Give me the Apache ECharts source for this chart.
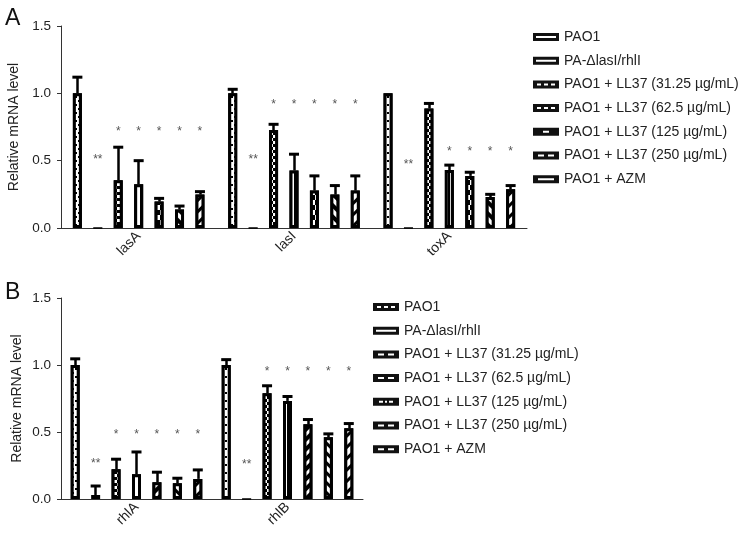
<!DOCTYPE html>
<html><head><meta charset="utf-8">
<script src="https://cdn.jsdelivr.net/npm/echarts@6/dist/echarts.min.js"></script>
<style>html,body{margin:0;padding:0;background:#fff}#c{width:742px;height:538px}</style>
</head><body><div id="c"></div>
<script>
// ---- data ----
const seriesNames = ['PAO1', 'PA-\u0394lasI/rhlI', 'PAO1 + LL37 (31.25 \u00b5g/mL)', 'PAO1 + LL37 (62.5 \u00b5g/mL)', 'PAO1 + LL37 (125 \u00b5g/mL)', 'PAO1 + LL37 (250 \u00b5g/mL)', 'PAO1 + AZM'];
const catsA = ['lasA', 'lasI', 'toxA'];
const catsB = ['rhlA', 'rhlB'];
const yTicks = [0, 0.5, 1.0, 1.5];

// means (one array per gene, ordered as seriesNames)
const meanLasA = [1.00, 0, 0.355, 0.325, 0.196, 0.137, 0.248];
const meanLasI = [1.00, 0, 0.727, 0.427, 0.278, 0.248, 0.278];
const meanToxA = [1.00, 0, 0.888, 0.430, 0.387, 0.230, 0.288];
const meanRhlA = [1.00, 0.030, 0.222, 0.185, 0.125, 0.117, 0.150];
const meanRhlB = [1.00, 0, 0.790, 0.732, 0.558, 0.461, 0.528];
// upper end of error bars
const errLasA = [1.12, 0, 0.60, 0.50, 0.22, 0.163, 0.27];
const errLasI = [1.03, 0, 0.77, 0.548, 0.387, 0.315, 0.387];
const errToxA = [1.00, 0, 0.925, 0.467, 0.414, 0.25, 0.315];
const errRhlA = [1.046, 0.097, 0.297, 0.351, 0.20, 0.155, 0.217];
const errRhlB = [1.04, 0, 0.845, 0.765, 0.593, 0.486, 0.563];
// significance marks
const starsLasA = ['', '**', '*', '*', '*', '*', '*'];
const starsLasI = ['', '**', '*', '*', '*', '*', '*'];
const starsToxA = ['', '**', '', '*', '*', '*', '*'];
const starsRhlA = ['', '**', '*', '*', '*', '*', '*'];
const starsRhlB = ['', '**', '*', '*', '*', '*', '*'];
// heights of marks: [single star, double star]
const starYLasA = [0.74, 0.526];
const starYLasI = [0.935, 0.528];
const starYToxA = [0.59, 0.49];
const starYRhlA = [0.503, 0.284];
const starYRhlB = [0.97, 0.279];

// ---- styles ----
const FONT = '"Liberation Sans", Arial, Helvetica, sans-serif';
const dec = (o) => Object.assign({symbol: 'rect', symbolSize: 1, color: '#000', backgroundColor: '#fff'}, o);
const decalsA = [
  dec({dashArrayX: [[2, 4], [0, 3, 2, 1]], dashArrayY: [2, 2]}),
  null,
  dec({dashArrayX: [[3, 3], [0, 3, 3, 0]], dashArrayY: [3, 0]}),
  dec({dashArrayX: [2, 5], dashArrayY: [10, 0]}),
  dec({dashArrayX: [[5, 5], [0, 5, 5, 0]], dashArrayY: [5, 0]}),
  dec({dashArrayX: [4, 4], dashArrayY: [20, 0], rotation: -Math.PI / 4}),
  dec({dashArrayX: [3, 5], dashArrayY: [20, 0], rotation: Math.PI / 4})
];
const decalsB = [
  dec({dashArrayX: [[2, 4], [0, 3, 2, 1]], dashArrayY: [2, 2]}),
  null,
  dec({dashArrayX: [[3, 3], [0, 3, 3, 0]], dashArrayY: [3, 0]}),
  dec({dashArrayX: [2, 5], dashArrayY: [10, 0]}),
  dec({dashArrayX: [4, 3], dashArrayY: [20, 0], rotation: Math.PI / 4}),
  dec({dashArrayX: [3, 4], dashArrayY: [20, 0], rotation: -Math.PI / 4}),
  dec({dashArrayX: [3, 5], dashArrayY: [20, 0], rotation: Math.PI / 4})
];
const OUT = 'M0,0L26,0L26,8L0,8Z ';
const hole = (x0, x1) => 'M' + x0 + ',3L' + x0 + ',5L' + x1 + ',5L' + x1 + ',3Z ';
const iconsA = [
  'path://' + OUT + hole(3, 23),
  'path://' + OUT + hole(3, 23),
  'path://' + OUT + hole(4, 8) + hole(11, 15) + hole(18, 22),
  'path://' + OUT + hole(4, 8) + hole(11, 15) + hole(18, 22),
  'path://' + OUT + hole(10, 16),
  'path://' + OUT + hole(5, 11) + hole(15, 21),
  'path://' + OUT + hole(5, 21)
];
const iconsB = [
  'path://' + OUT + hole(4, 8) + hole(11, 15) + hole(18, 22),
  'path://' + OUT + hole(3, 23),
  'path://' + OUT + hole(5, 11) + hole(15, 21),
  'path://' + OUT + hole(5, 11) + hole(15, 21),
  'path://' + OUT + hole(6, 10) + hole(12, 14) + hole(16, 20),
  'path://' + OUT + hole(5, 11) + hole(15, 21),
  'path://' + OUT + hole(5, 11) + hole(15, 21)
];

function buildSeries(gridIdx, means, errs, stars, starYs, decals) {
  return seriesNames.map((name, s) => {
    const data = means.map(m => (m[s] === 0 ? {value: 0, itemStyle: {borderWidth: 1}} : m[s]));
    const lines = [];
    const points = [];
    means.forEach((m, ci) => {
      const e = errs[ci][s];
      if (e > m[s] + 0.004) {
        lines.push([{coord: [ci, m[s]]}, {coord: [ci, e]}]);
        points.push({coord: [ci, e], symbol: 'rect', symbolSize: [10, 3], itemStyle: {color: '#000'}, label: {show: false}});
      }
      const st = stars[ci][s];
      if (st) {
        points.push({coord: [ci, st === '**' ? starYs[ci][1] : starYs[ci][0]], symbol: 'circle', symbolSize: 0,
          label: {show: true, formatter: st, fontSize: 12, color: '#555', fontFamily: FONT, position: 'inside', offset: [0, 3]}});
      }
    });
    return {
      type: 'bar', name, xAxisIndex: gridIdx, yAxisIndex: gridIdx, data,
      barWidth: 9, barGap: '127%',
      itemStyle: {color: '#fff', borderColor: '#000', borderWidth: 3, decal: decals[s] || undefined},
      emphasis: {disabled: true},
      markLine: {silent: true, symbol: ['none', 'none'], label: {show: false}, lineStyle: {color: '#000', width: 2.5, type: 'solid'}, emphasis: {disabled: true}, data: lines},
      markPoint: {silent: true, data: points}
    };
  });
}

const legendBase = (id, left, top, icons) => ({
  id, orient: 'vertical', left, top, padding: 0, itemWidth: 26, itemHeight: 8, itemGap: 9.7, selectedMode: false,
  textStyle: {fontSize: 14, color: '#222', fontFamily: FONT},
  itemStyle: {color: '#111', borderWidth: 0, decal: 'none'},
  data: seriesNames.map((n, i) => ({name: n, icon: icons[i]}))
});

const xAx = (gi, cats) => ({
  type: 'category', gridIndex: gi, data: cats,
  axisLine: {lineStyle: {color: '#333', width: 1}},
  axisTick: {alignWithLabel: true, length: 5, lineStyle: {color: '#333'}},
  axisLabel: {rotate: 45, fontSize: 14, color: '#222', fontFamily: FONT, margin: 6}
});
const yAx = (gi) => ({
  type: 'value', gridIndex: gi, min: yTicks[0], max: yTicks[yTicks.length - 1], interval: yTicks[1] - yTicks[0],
  name: 'Relative mRNA level', nameLocation: 'middle', nameGap: 37,
  nameTextStyle: {fontSize: 14, color: '#222', fontFamily: FONT},
  axisLine: {show: true, lineStyle: {color: '#333', width: 1}},
  axisTick: {show: true, length: 4, lineStyle: {color: '#333'}},
  splitLine: {show: false},
  axisLabel: {fontSize: 13.5, color: '#222', fontFamily: FONT, margin: 10, formatter: v => v.toFixed(1)}
});

const option = {
  animation: false,
  backgroundColor: '#fff',
  title: [
    {text: 'A', left: 0, top: 2, textStyle: {fontSize: 23, fontWeight: 'normal', color: '#111', fontFamily: FONT}},
    {text: 'B', left: 0, top: 276, textStyle: {fontSize: 23, fontWeight: 'normal', color: '#111', fontFamily: FONT}}
  ],
  grid: [
    {left: 61, top: 26, width: 466, height: 202, outerBoundsMode: 'none'},
    {left: 61, top: 298, width: 302, height: 201, outerBoundsMode: 'none'}
  ],
  legend: [legendBase('la', 533, 30, iconsA), legendBase('lb', 373, 300, iconsB)],
  xAxis: [xAx(0, catsA), xAx(1, catsB)],
  yAxis: [yAx(0), yAx(1)],
  series: []
    .concat(buildSeries(0, [meanLasA, meanLasI, meanToxA], [errLasA, errLasI, errToxA], [starsLasA, starsLasI, starsToxA], [starYLasA, starYLasI, starYToxA], decalsA))
    .concat(buildSeries(1, [meanRhlA, meanRhlB], [errRhlA, errRhlB], [starsRhlA, starsRhlB], [starYRhlA, starYRhlB], decalsB))
};
const chart = echarts.init(document.getElementById('c'), null, {renderer: 'canvas'});
chart.setOption(option);
</script></body></html>
